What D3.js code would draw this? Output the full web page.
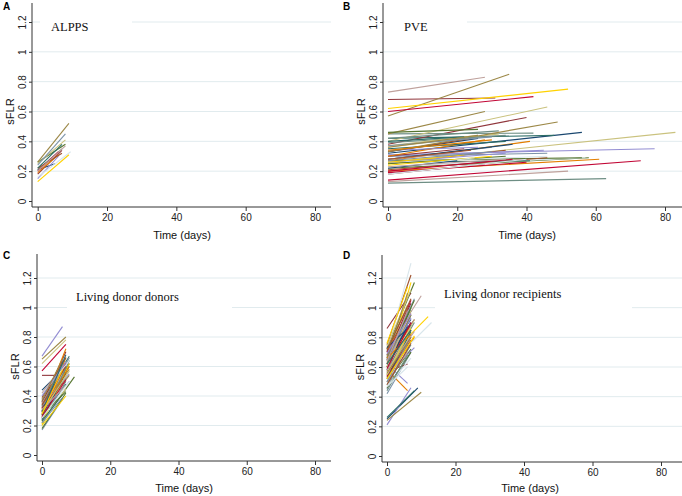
<!DOCTYPE html>
<html>
<head>
<meta charset="utf-8">
<script src="https://cdn.jsdelivr.net/npm/d3@7"></script>
<style>
  html, body { margin: 0; padding: 0; background: #fff; }
  svg { display: block; }
</style>
</head>
<body>
<div id="chart"></div>
<script>
// Each patient: [sFLR at day 0, day of 2nd measurement, sFLR at 2nd measurement]
const alpps = [
  [0.21, 5, 0.25], [0.18, 7, 0.34], [0.26, 8, 0.38], [0.19, 6, 0.31], [0.21, 7, 0.35],
  [0.20, 6, 0.33], [0.15, 6, 0.30], [0.25, 8, 0.41], [0.22, 7, 0.32], [0.24, 8, 0.45],
  [0.22, 7, 0.38], [0.26, 9, 0.52], [0.20, 8, 0.37], [0.13, 9, 0.31], [0.16, 9.5, 0.33]
];

const pve = [
  [0.32, 56, 0.46], [0.68, 31, 0.69], [0.22, 58, 0.29], [0.20, 61, 0.28], [0.12, 63, 0.15],
  [0.14, 73, 0.27], [0.31, 77, 0.35], [0.26, 83, 0.46], [0.25, 34, 0.34], [0.28, 30, 0.36],
  [0.42, 48, 0.44], [0.57, 35, 0.85], [0.73, 28, 0.83], [0.62, 52, 0.75], [0.23, 57, 0.29],
  [0.33, 26, 0.42], [0.38, 40, 0.56], [0.27, 56, 0.29], [0.27, 41, 0.40], [0.45, 42, 0.455],
  [0.60, 42, 0.70], [0.30, 45, 0.34], [0.40, 46, 0.63], [0.21, 46, 0.29], [0.30, 46, 0.32],
  [0.26, 41, 0.27], [0.45, 28, 0.60], [0.13, 52, 0.20], [0.25, 22, 0.31], [0.26, 46, 0.30],
  [0.28, 36, 0.38], [0.30, 22, 0.35], [0.25, 34, 0.30], [0.30, 28, 0.41], [0.42, 32, 0.47],
  [0.19, 40, 0.26], [0.34, 26, 0.36], [0.36, 32, 0.45], [0.33, 24, 0.42], [0.27, 30, 0.33],
  [0.35, 34, 0.40], [0.33, 49, 0.53], [0.28, 18, 0.32], [0.24, 30, 0.30], [0.22, 25, 0.29],
  [0.22, 20, 0.27], [0.18, 28, 0.25], [0.46, 26, 0.48], [0.34, 30, 0.41], [0.39, 34, 0.44],
  [0.20, 36, 0.28], [0.26, 34, 0.32], [0.37, 26, 0.44], [0.28, 24, 0.34], [0.37, 30, 0.43],
  [0.40, 22, 0.43], [0.36, 26, 0.44], [0.23, 34, 0.28], [0.26, 14, 0.29], [0.18, 40, 0.28]
];

const donors = [
  [0.44, 7, 0.60], [0.54, 5, 0.54], [0.30, 8, 0.62], [0.25, 7, 0.66], [0.38, 7, 0.58],
  [0.57, 7, 0.75], [0.67, 6, 0.87], [0.62, 7, 0.78], [0.33, 7, 0.52], [0.17, 6, 0.38],
  [0.37, 8, 0.67], [0.65, 7, 0.80], [0.42, 6, 0.60], [0.23, 7, 0.54], [0.40, 6, 0.55],
  [0.36, 8, 0.60], [0.30, 7, 0.57], [0.22, 9.5, 0.53], [0.27, 7, 0.63], [0.20, 7, 0.50],
  [0.32, 6, 0.64], [0.28, 8, 0.50], [0.26, 7, 0.60], [0.36, 6, 0.62], [0.30, 8, 0.66],
  [0.25, 7, 0.48], [0.34, 8, 0.58], [0.38, 7, 0.56], [0.21, 8, 0.62], [0.19, 6, 0.44],
  [0.27, 6, 0.52], [0.35, 7, 0.70], [0.18, 7, 0.42], [0.31, 7, 0.72], [0.24, 8, 0.64],
  [0.29, 7, 0.62], [0.33, 8, 0.55], [0.22, 7, 0.45], [0.39, 7, 0.66], [0.26, 6, 0.46],
  [0.23, 6, 0.41], [0.31, 8, 0.54], [0.35, 6, 0.58], [0.20, 7, 0.40], [0.41, 8, 0.64],
  [0.24, 7, 0.56], [0.32, 6, 0.49], [0.27, 7, 0.43], [0.28, 8, 0.60], [0.33, 6, 0.62],
  [0.26, 7, 0.51], [0.40, 7, 0.63], [0.29, 8, 0.57], [0.34, 7, 0.60], [0.22, 6, 0.39],
  [0.29, 7, 0.68], [0.37, 6, 0.65], [0.31, 7, 0.47], [0.28, 6, 0.58], [0.25, 8, 0.50]
];

const recipients = [
  [0.25, 9, 0.46], [0.86, 7, 1.10], [0.72, 8, 1.17], [0.58, 6, 0.44], [0.55, 7, 0.85],
  [0.62, 6, 0.95], [0.21, 7, 0.46], [0.52, 6, 0.80], [0.75, 7, 1.22], [0.42, 7, 0.70],
  [0.26, 8, 0.44], [0.24, 10, 0.43], [0.72, 10, 1.08], [0.60, 7, 1.17], [0.70, 7, 1.30],
  [0.65, 7, 0.90], [0.57, 6, 0.62], [0.60, 7, 1.00], [0.53, 8, 0.80], [0.48, 7, 0.75],
  [0.66, 7, 1.05], [0.62, 6, 0.49], [0.70, 6, 1.02], [0.62, 7, 0.85], [0.45, 7, 0.82],
  [0.58, 7, 0.95], [0.73, 6, 1.00], [0.55, 7, 0.78], [0.66, 12, 0.94], [0.60, 13, 0.90],
  [0.70, 7, 0.92], [0.65, 8, 0.92], [0.50, 7, 0.72], [0.62, 7, 0.88], [0.68, 6, 0.97],
  [0.54, 7, 0.80], [0.55, 8, 0.73], [0.74, 7, 1.12], [0.57, 6, 0.82], [0.62, 7, 1.00],
  [0.72, 7, 0.98], [0.63, 7, 0.95], [0.50, 6, 0.70], [0.76, 6, 1.14], [0.56, 7, 0.86],
  [0.60, 6, 0.88], [0.68, 7, 1.03], [0.46, 7, 0.70], [0.72, 7, 0.96], [0.58, 8, 0.90],
  [0.70, 6, 0.93], [0.64, 7, 0.93], [0.60, 7, 0.98], [0.48, 7, 0.76], [0.66, 8, 1.06],
  [0.52, 7, 0.84], [0.67, 6, 1.10], [0.58, 8, 0.84], [0.55, 7, 0.86], [0.47, 7, 0.66],
  [0.73, 7, 0.88], [0.53, 7, 0.78], [0.65, 8, 1.05], [0.66, 7, 0.82], [0.44, 6, 0.68],
  [0.59, 7, 0.90], [0.69, 7, 0.96], [0.55, 8, 0.92], [0.71, 7, 1.06], [0.50, 6, 0.76],
  [0.62, 7, 0.85], [0.56, 7, 0.80], [0.64, 6, 0.98], [0.52, 8, 0.81], [0.47, 6, 0.60]
];

const xTicks = [0, 20, 40, 60, 80];
const yTicks = [0, 0.2, 0.4, 0.6, 0.8, 1, 1.2];
const gridTicks = [0.2, 0.4, 0.6, 0.8, 1, 1.2];

// Stata s2color line cycle
const palette = ['#1a476f', '#90353b', '#55752f', '#e37e00', '#6e8e84', '#c10534', '#938dd2',
  '#cac27e', '#a0522d', '#7b92a8', '#2d6d66', '#9c8847', '#bfa19c', '#ffd200', '#d9e6eb'];

const W = 682, H = 496;
const sans = '"Liberation Sans", Arial, Helvetica, sans-serif';
const serif = '"Liberation Serif", "Times New Roman", Times, serif';
const axisColor = '#333';

const panels = [
  { letter: 'A', title: 'ALPPS', data: alpps, letterX: 3, letterY: 10,
    axisX: 32, x0: 37.7, x80: 315, xEnd: 331, y0: 201, y12: 22, top: 3, axisY: 207,
    titleX: 51, titleY: 31, box: [40, 14, 92, 24], xLabelX: 182, xLabelY: 239 },
  { letter: 'B', title: 'PVE', data: pve, letterX: 343, letterY: 10,
    axisX: 383, x0: 388, x80: 665, xEnd: 682, y0: 201, y12: 22, top: 3, axisY: 207,
    titleX: 404, titleY: 31, box: [385, 14, 82, 24], xLabelX: 527, xLabelY: 239 },
  { letter: 'C', title: 'Living donor donors', data: donors, letterX: 3, letterY: 259,
    axisX: 37, x0: 42, x80: 315, xEnd: 331, y0: 455, y12: 278, top: 254, axisY: 461,
    titleX: 76, titleY: 300.5, box: [67, 286, 165, 26], xLabelX: 184, xLabelY: 492 },
  { letter: 'D', title: 'Living donor recipients', data: recipients, letterX: 343, letterY: 259,
    axisX: 382, x0: 387, x80: 661, xEnd: 682, y0: 456, y12: 278, top: 255, axisY: 462,
    titleX: 444, titleY: 298, box: [435, 285, 197, 27], xLabelX: 530, xLabelY: 492 }
];

const svg = d3.select('#chart').append('svg')
  .attr('width', W)
  .attr('height', H);

svg.append('rect').attr('width', W).attr('height', H).attr('fill', '#fff');

panels.forEach(p => {
  const g = svg.append('g');
  const x = d3.scaleLinear().domain([0, 80]).range([p.x0, p.x80]);
  const y = d3.scaleLinear().domain([0, 1.2]).range([p.y0, p.y12]);

  // gridlines
  g.selectAll('line.grid')
    .data(gridTicks)
    .join('line')
    .attr('class', 'grid')
    .attr('x1', p.axisX).attr('x2', p.xEnd)
    .attr('y1', d => y(d)).attr('y2', d => y(d))
    .attr('stroke', '#e1ebee')
    .attr('stroke-width', 1);

  // white box behind the panel title
  g.append('rect')
    .attr('x', p.box[0]).attr('y', p.box[1])
    .attr('width', p.box[2]).attr('height', p.box[3])
    .attr('fill', '#fff');

  // patient lines: day 0 -> second measurement
  const line = d3.line().x(d => x(d[0])).y(d => y(d[1]));
  g.selectAll('path.pt')
    .data(p.data)
    .join('path')
    .attr('class', 'pt')
    .attr('d', d => line([[0, d[0]], [d[1], d[2]]]))
    .attr('fill', 'none')
    .attr('stroke', (d, i) => palette[i % palette.length])
    .attr('stroke-width', 1.1);

  // x axis
  const xAxis = g.append('g')
    .attr('transform', `translate(0,${p.axisY})`)
    .call(d3.axisBottom(x).tickValues(xTicks).tickSize(4).tickPadding(3).tickFormat(d3.format('d')));
  xAxis.select('.domain').remove();
  xAxis.selectAll('line').attr('stroke', axisColor);
  xAxis.selectAll('text')
    .attr('fill', '#222')
    .attr('font-family', sans)
    .attr('font-size', '10px');
  g.append('line')
    .attr('x1', p.axisX).attr('x2', p.xEnd)
    .attr('y1', p.axisY).attr('y2', p.axisY)
    .attr('stroke', axisColor);

  // y axis
  const yAxis = g.append('g')
    .attr('transform', `translate(${p.axisX},0)`)
    .call(d3.axisLeft(y).tickValues(yTicks).tickSize(3).tickFormat(d => d3.format('~g')(d)));
  yAxis.select('.domain').remove();
  yAxis.selectAll('line').attr('stroke', axisColor);
  yAxis.selectAll('text')
    .attr('fill', '#222')
    .attr('font-family', sans)
    .attr('font-size', '10px')
    .attr('text-anchor', 'middle')
    .attr('dy', null)
    .attr('x', null)
    .attr('transform', 'translate(-10,0) rotate(-90)')
    .attr('dominant-baseline', 'central');
  g.append('line')
    .attr('x1', p.axisX).attr('x2', p.axisX)
    .attr('y1', p.top).attr('y2', p.axisY)
    .attr('stroke', axisColor);

  // axis titles
  g.append('text')
    .attr('x', p.xLabelX).attr('y', p.xLabelY)
    .attr('text-anchor', 'middle')
    .attr('font-family', sans)
    .attr('font-size', '11px')
    .attr('fill', '#111')
    .text('Time (days)');

  const ly = (p.y0 + p.y12) / 2;
  g.append('text')
    .attr('transform', `translate(${p.axisX - 22},${ly}) rotate(-90)`)
    .attr('text-anchor', 'middle')
    .attr('dominant-baseline', 'central')
    .attr('font-family', sans)
    .attr('font-size', '11px')
    .attr('fill', '#111')
    .text('sFLR');

  // panel title and letter
  g.append('text')
    .attr('x', p.titleX).attr('y', p.titleY)
    .attr('font-family', serif)
    .attr('font-size', '12.5px')
    .attr('fill', '#111')
    .text(p.title);

  g.append('text')
    .attr('x', p.letterX).attr('y', p.letterY)
    .attr('font-family', sans)
    .attr('font-weight', 'bold')
    .attr('font-size', '10px')
    .attr('fill', '#000')
    .text(p.letter);
});
</script>
</body>
</html>
